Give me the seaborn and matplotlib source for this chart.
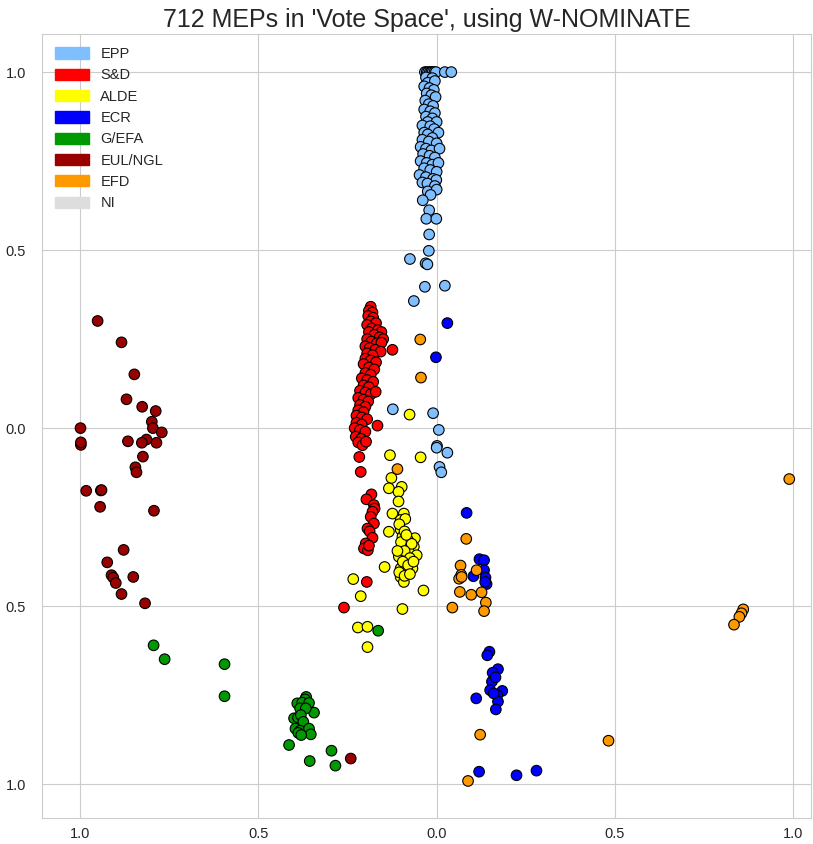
import matplotlib
matplotlib.use("Agg")
import matplotlib.pyplot as plt
import matplotlib.patches as mpatches
import seaborn as sns
import pandas as pd

# ------------------------------------------
# Data
# ------------------------------------------
PARTIES = ['EPP', 'S&D', 'ALDE', 'ECR', 'G/EFA', 'EUL/NGL', 'EFD', 'NI']
COLORS = ['#80BFFF', '#FF0000', '#FFFF00', '#0000FF', '#009900', '#990000', '#FF9900', '#DDDDDD']
TICKS = [-1.0, -0.5, 0.0, 0.5, 1.0]
TICK_LABELS = ['1.0', '0.5', '0.0', '0.5', '1.0']
TITLE = "712 MEPs in 'Vote Space', using W-NOMINATE"

epp = [(-0.033, 1.0), (-0.028, 1.0), (-0.024, 1.0), (-0.019, 1.0), (-0.015, 1.0), (-0.011, 1.0),
       (-0.006, 1.0), (-0.002, 1.0), (0.023, 1.0), (0.041, 1.0),
       (-0.030, 0.985), (-0.012, 0.983), (-0.025, 0.97), (-0.005, 0.975),
       (-0.035, 0.96), (-0.020, 0.955), (-0.008, 0.95), (-0.028, 0.94), (-0.015, 0.935), (-0.003, 0.93),
       (-0.032, 0.92), (-0.022, 0.91), (-0.010, 0.905), (-0.035, 0.895), (-0.018, 0.89), (-0.005, 0.885),
       (-0.030, 0.875), (-0.012, 0.87), (-0.025, 0.86), (0.000, 0.86), (-0.040, 0.85), (-0.018, 0.848),
       (-0.007, 0.84), (-0.035, 0.83), (-0.025, 0.825), (0.005, 0.83), (-0.012, 0.815), (-0.040, 0.81),
       (-0.022, 0.805), (0.000, 0.80), (-0.045, 0.79), (-0.030, 0.785), (-0.015, 0.78), (0.008, 0.785),
       (-0.038, 0.77), (-0.020, 0.765), (-0.005, 0.76), (-0.045, 0.75), (-0.028, 0.745), (-0.012, 0.74),
       (0.005, 0.745), (-0.035, 0.73), (-0.018, 0.725), (0.000, 0.72), (-0.048, 0.711), (-0.030, 0.705),
       (-0.010, 0.70), (-0.001, 0.697), (-0.040, 0.69), (-0.026, 0.687), (-0.005, 0.68),
       (-0.025, 0.665), (0.000, 0.67),
       (-0.017, 0.655), (-0.039, 0.640), (-0.021, 0.612), (-0.029, 0.588), (-0.001, 0.588),
       (-0.021, 0.544), (-0.022, 0.498), (-0.075, 0.475), (-0.031, 0.463), (-0.026, 0.460),
       (-0.033, 0.397), (0.023, 0.400), (-0.064, 0.357), (-0.123, 0.053), (-0.010, 0.042),
       (0.006, -0.005), (0.001, -0.050), (0.000, -0.055), (0.030, -0.069), (0.008, -0.109), (0.013, -0.124)]

snd = [(-0.185, 0.341), (-0.190, 0.330), (-0.180, 0.325), (-0.192, 0.315), (-0.178, 0.310),
       (-0.185, 0.300), (-0.170, 0.295), (-0.195, 0.290), (-0.182, 0.280), (-0.165, 0.275),
       (-0.155, 0.270), (-0.190, 0.270), (-0.175, 0.262), (-0.160, 0.255), (-0.150, 0.250),
       (-0.195, 0.250), (-0.183, 0.243), (-0.168, 0.238), (-0.155, 0.240), (-0.200, 0.230),
       (-0.188, 0.225), (-0.172, 0.220), (-0.157, 0.215), (-0.195, 0.210), (-0.180, 0.205),
       (-0.200, 0.195), (-0.185, 0.190), (-0.170, 0.185), (-0.205, 0.180), (-0.190, 0.170),
       (-0.175, 0.165), (-0.200, 0.155), (-0.185, 0.150), (-0.210, 0.140), (-0.195, 0.135),
       (-0.178, 0.130), (-0.205, 0.120), (-0.190, 0.115), (-0.215, 0.105), (-0.200, 0.100),
       (-0.185, 0.095), (-0.220, 0.085), (-0.205, 0.080), (-0.192, 0.075), (-0.215, 0.065),
       (-0.200, 0.060), (-0.220, 0.050), (-0.205, 0.045), (-0.225, 0.035), (-0.210, 0.030),
       (-0.195, 0.025), (-0.225, 0.015), (-0.210, 0.010), (-0.230, 0.000), (-0.215, -0.005),
       (-0.200, -0.010), (-0.227, -0.024), (-0.212, -0.030), (-0.220, -0.040), (-0.208, -0.048),
       (-0.198, -0.038),
       (-0.124, 0.220), (-0.171, 0.102), (-0.166, 0.007), (-0.217, -0.081), (-0.213, -0.123),
       (-0.183, -0.186), (-0.197, -0.200), (-0.176, -0.216), (-0.174, -0.226), (-0.180, -0.235),
       (-0.185, -0.249), (-0.176, -0.268), (-0.194, -0.282), (-0.188, -0.290), (-0.180, -0.308),
       (-0.199, -0.324), (-0.204, -0.338), (-0.193, -0.343), (-0.190, -0.330), (-0.196, -0.432),
       (-0.260, -0.504)]

alde = [(-0.076, 0.038), (-0.131, -0.076), (-0.045, -0.082), (-0.127, -0.140), (-0.134, -0.169),
        (-0.098, -0.165), (-0.107, -0.179), (-0.107, -0.206), (-0.124, -0.240), (-0.092, -0.240),
        (-0.101, -0.258), (-0.088, -0.255), (-0.134, -0.291), (-0.101, -0.285), (-0.096, -0.305),
        (-0.061, -0.309), (-0.064, -0.333), (-0.096, -0.333), (-0.078, -0.347), (-0.056, -0.357),
        (-0.106, -0.361), (-0.087, -0.376), (-0.068, -0.394), (-0.101, -0.394), (-0.084, -0.404),
        (-0.101, -0.418), (-0.092, -0.432), (-0.146, -0.390), (-0.037, -0.456), (-0.234, -0.424),
        (-0.213, -0.472), (-0.096, -0.508), (-0.221, -0.560), (-0.194, -0.558), (-0.194, -0.615),
        (-0.105, -0.270), (-0.090, -0.290), (-0.080, -0.315), (-0.100, -0.320), (-0.070, -0.325),
        (-0.090, -0.345), (-0.075, -0.365), (-0.095, -0.375), (-0.080, -0.385), (-0.105, -0.405),
        (-0.090, -0.415), (-0.075, -0.410), (-0.110, -0.345), (-0.065, -0.375), (-0.085, -0.300)]

ecr = [(0.030, 0.295), (-0.002, 0.199), (0.084, -0.238), (0.120, -0.368), (0.133, -0.371),
       (0.133, -0.399), (0.137, -0.420), (0.140, -0.438), (0.103, -0.416), (0.136, -0.432),
       (0.148, -0.628), (0.142, -0.638), (0.172, -0.677), (0.157, -0.687), (0.155, -0.712),
       (0.184, -0.738), (0.170, -0.750), (0.172, -0.768), (0.166, -0.790), (0.150, -0.736),
       (0.160, -0.745), (0.165, -0.700), (0.111, -0.759), (0.119, -0.965), (0.224, -0.975),
       (0.280, -0.962)]

gefa = [(-0.366, -0.755), (-0.369, -0.762), (-0.391, -0.773), (-0.377, -0.771), (-0.358, -0.772),
        (-0.344, -0.799), (-0.383, -0.787), (-0.367, -0.787), (-0.400, -0.815), (-0.389, -0.813),
        (-0.381, -0.806), (-0.374, -0.825), (-0.396, -0.844), (-0.383, -0.850), (-0.358, -0.844),
        (-0.353, -0.860), (-0.388, -0.856), (-0.380, -0.862), (-0.414, -0.890), (-0.356, -0.935),
        (-0.295, -0.906), (-0.284, -0.948), (-0.794, -0.610), (-0.763, -0.649), (-0.595, -0.663),
        (-0.595, -0.753), (-0.164, -0.569)]

eul = [(-0.951, 0.301), (-0.884, 0.241), (-0.848, 0.151), (-0.870, 0.081), (-0.826, 0.060),
       (-0.788, 0.048), (-0.799, 0.018), (-0.796, 0.000), (-0.771, -0.012), (-0.999, 0.000),
       (-0.998, -0.047), (-0.998, -0.040), (-0.866, -0.037), (-0.814, -0.032), (-0.827, -0.041),
       (-0.786, -0.041), (-0.824, -0.080), (-0.845, -0.110), (-0.842, -0.124), (-0.983, -0.176),
       (-0.942, -0.175), (-0.940, -0.174), (-0.944, -0.221), (-0.793, -0.232), (-0.878, -0.342),
       (-0.924, -0.377), (-0.912, -0.413), (-0.907, -0.420), (-0.900, -0.435), (-0.851, -0.418),
       (-0.884, -0.466), (-0.818, -0.492), (-0.241, -0.928)]

efd = [(0.989, -0.143), (0.860, -0.509), (0.855, -0.520), (0.849, -0.530), (0.834, -0.552),
       (0.482, -0.878), (0.083, -0.311), (0.067, -0.386), (0.069, -0.412), (0.063, -0.423),
       (0.070, -0.418), (0.065, -0.460), (0.097, -0.468), (0.126, -0.461), (0.138, -0.490),
       (0.133, -0.514), (0.044, -0.504), (0.112, -0.399), (0.122, -0.861), (0.088, -0.991),
       (-0.046, 0.249), (-0.044, 0.142), (-0.110, -0.115)]

ni = []

# ------------------------------------------
# Build frame
# ------------------------------------------
groups = [epp, snd, alde, ecr, gefa, eul, efd, ni]
frames = []
for name, pts in zip(PARTIES, groups):
    d = pd.DataFrame(pts, columns=['x', 'y'])
    d['group'] = name
    frames.append(d)
df = pd.concat(frames, ignore_index=True)

# ------------------------------------------
# Plot
# ------------------------------------------
sns.set_style("whitegrid")
plt.rcParams['font.family'] = ['Liberation Sans', 'DejaVu Sans']

fig = plt.figure(figsize=(8.13, 8.44), dpi=100)
ax = fig.add_axes([42 / 813, 1 - 818 / 844, (811 - 42) / 813, (818 - 34) / 844])

sns.scatterplot(data=df, x='x', y='y', hue='group', hue_order=PARTIES,
                palette=dict(zip(PARTIES, COLORS)), s=58, edgecolor='black',
                linewidth=0.8, legend=False, ax=ax)

ax.set_xlim(-1.107, 1.05)
ax.set_ylim(-1.095, 1.107)
ax.set_xticks(TICKS)
ax.set_xticklabels(TICK_LABELS)
ax.set_yticks(TICKS)
ax.set_yticklabels(TICK_LABELS)
ax.tick_params(labelsize=10.5, colors='.15')
ax.tick_params(axis='x', pad=3)
ax.tick_params(axis='y', pad=8)
ax.set_xlabel('')
ax.set_ylabel('')

handles = [mpatches.Patch(color=c, label=p) for p, c in zip(PARTIES, COLORS)]
ax.legend(handles=handles, loc='upper left', frameon=False, fontsize=10.5,
          handlelength=2.3, handleheight=0.8, labelspacing=0.5)

ax.set_title(TITLE, fontsize=18, color='.15', pad=5)

fig.savefig('out.png', dpi=100)
